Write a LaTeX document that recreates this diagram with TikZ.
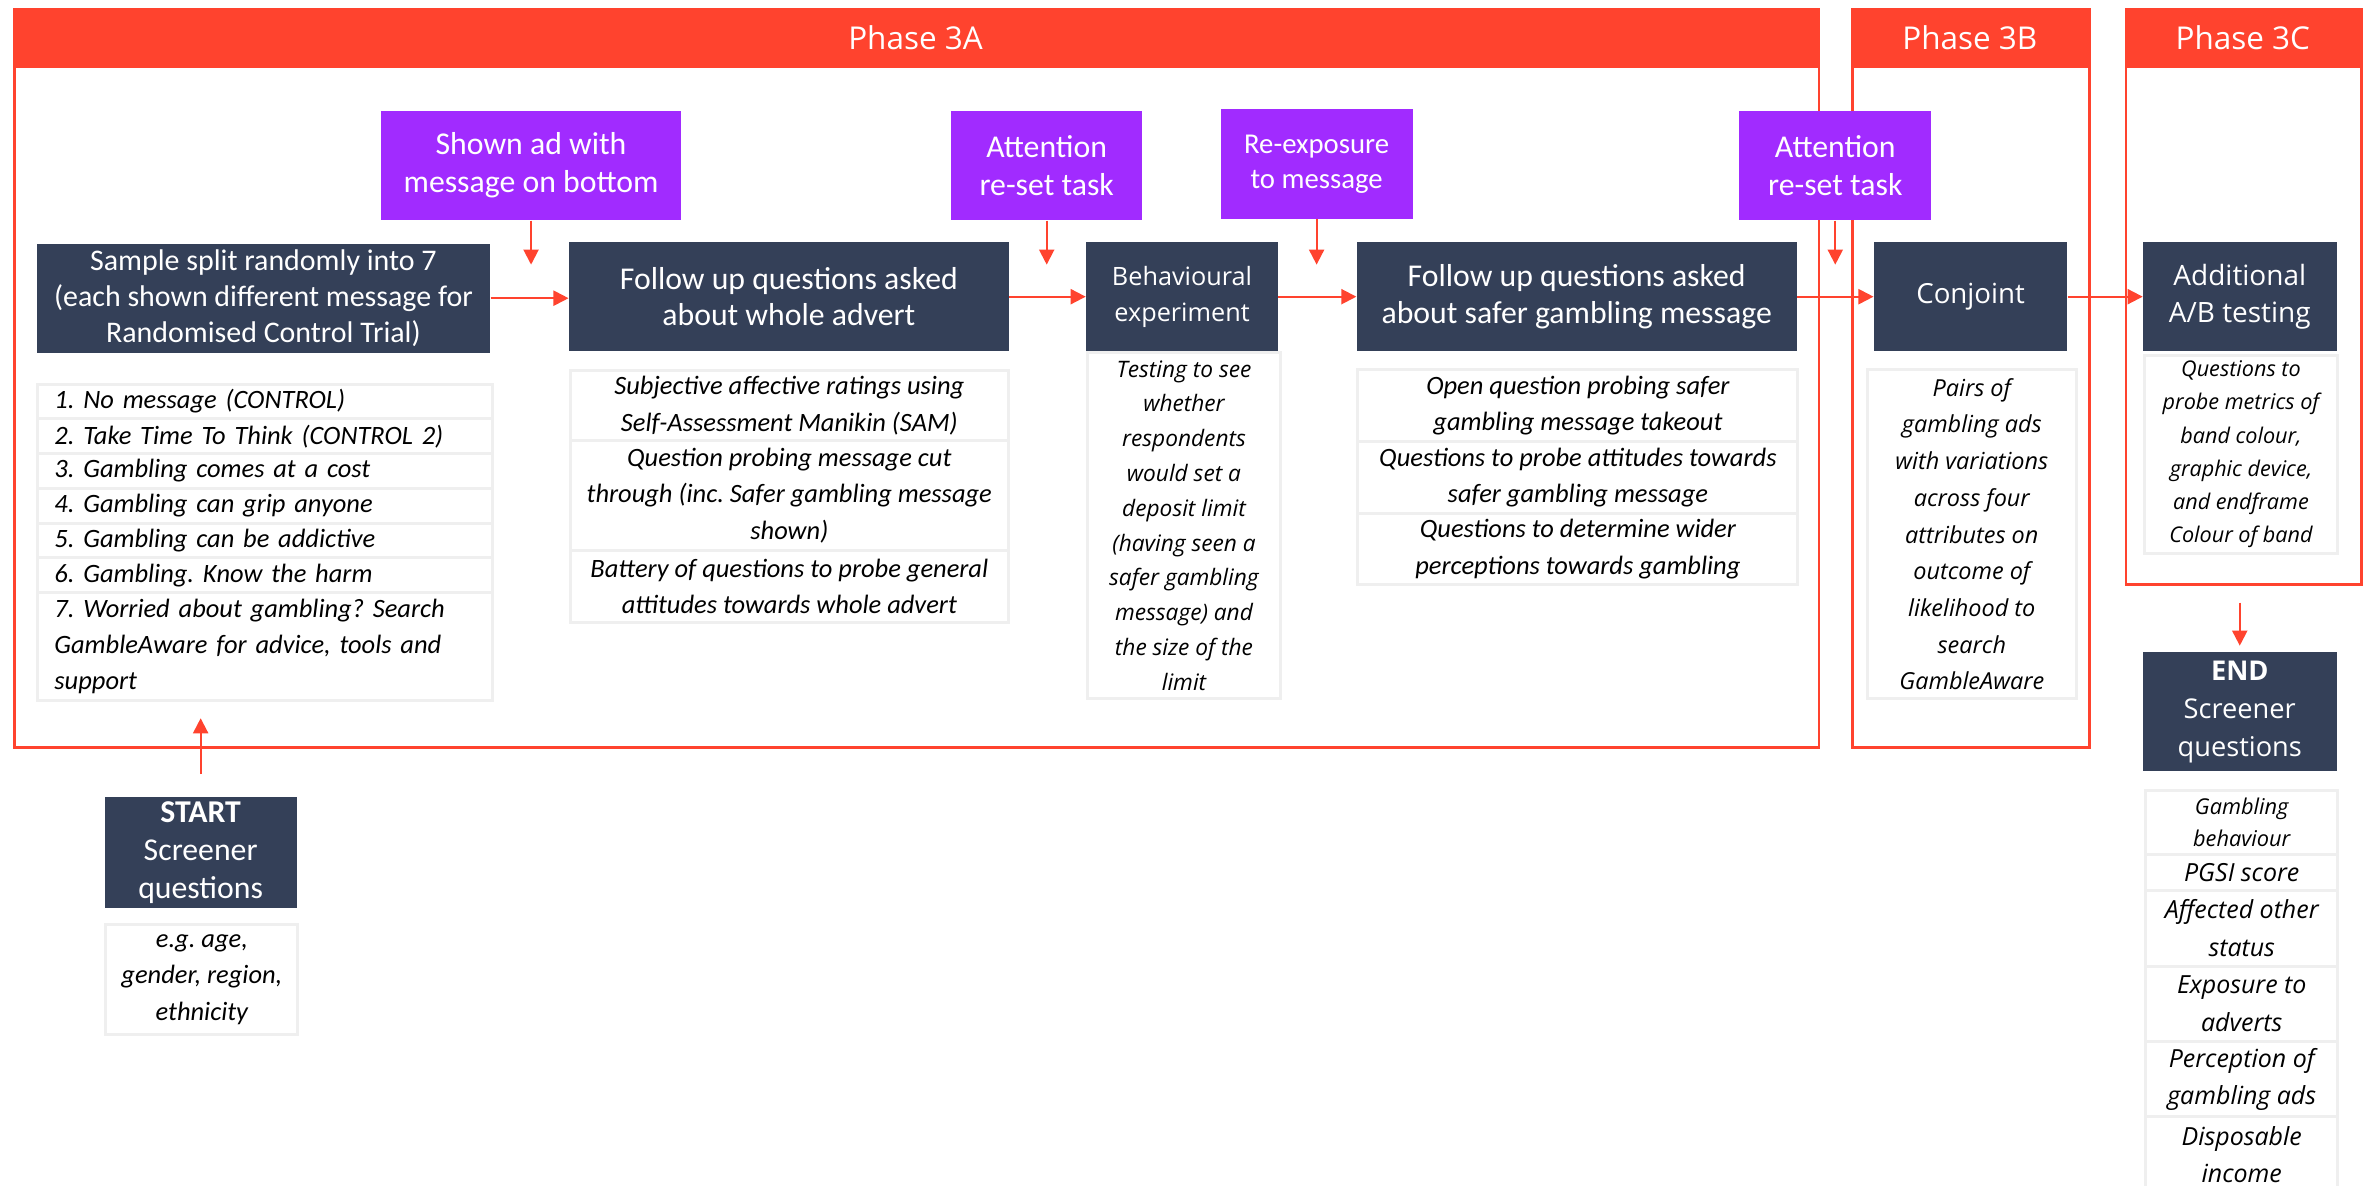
\documentclass[tikz,border=0pt]{standalone}
\usepackage{fontspec}
\setmainfont{Carlito}
\newfontfamily\osans{Open Sans}
\usetikzlibrary{arrows.meta}
\frenchspacing
\definecolor{phred}{HTML}{FF432E}
\definecolor{navy}{HTML}{344058}
\definecolor{purp}{HTML}{A12BFF}
\definecolor{lgray}{HTML}{EFEFEF}
\tikzset{
  every node/.style={inner sep=0pt, anchor=north west, align=center},
  sz/.style 2 args={minimum width=#1, minimum height=#2},
  dark/.style={fill=navy, text=white},
  purple/.style={fill=purp, text=white, font=\fontsize{21}{25}\selectfont},
  light/.style={draw=lgray, line width=2pt, fill=white},
  cal/.style={font=\fontsize{#1}{24}\selectfont},
  calit/.style={font=\frenchspacing\itshape\fontsize{17.5}{24}\selectfont},
  osf/.style 2 args={font=\osans\fontsize{#1}{#2}\selectfont},
  osit/.style 2 args={font=\osans\itshape\fontsize{#1}{#2}\selectfont},
  phasebox/.style={draw=phred, line width=1.8pt},
  phhead/.style={fill=phred, text=white, font=\osans\fontsize{20.8}{24}\selectfont},
  arr/.style={draw=phred, line width=1.3pt, -{Triangle[length=10pt,width=10pt]}},
  listrow/.style={light, calit, align=left, text width=279pt, inner xsep=11pt, minimum width=301pt},
}
\begin{document}
\begin{tikzpicture}[x=1pt,y=-1pt]
\useasboundingbox[fill=white] (0,0) rectangle (1568,784);

% phases
\node[phasebox, sz={1193.5pt}{488.5pt}] (ph3a) at (8.5,5) {};
\node[phasebox, sz={157pt}{488.5pt}] (ph3b) at (1224,5) {};
\node[phasebox, sz={156pt}{380.7pt}] (ph3c) at (1405,5) {};
\node[phhead, sz={1193.5pt}{39.8pt}] (h3a) at (8.5,5) {Phase 3A};
\node[phhead, sz={157pt}{39.8pt}] (h3b) at (1224,5) {Phase 3B};
\node[phhead, sz={156pt}{39.8pt}] (h3c) at (1405,5) {Phase 3C};

% dark boxes
\node[dark, cal=19.8, sz={300pt}{72pt}] (d1) at (24,161) {Sample split randomly into 7\\(each shown different message for\\Randomised Control Trial)};
\node[dark, cal=21, sz={291pt}{72pt}] (d2) at (376,160) {Follow up questions asked\\about whole advert};
\node[dark, osf={16.7}{23.5}, sz={127pt}{72pt}] (d3) at (718,160) {Behavioural\\experiment};
\node[dark, cal=21, sz={291pt}{72pt}] (d4) at (897,160) {Follow up questions asked\\about safer gambling message};
\node[dark, osf={18.3}{24}, sz={128pt}{72pt}] (d5) at (1239,160) {Conjoint};
\node[dark, osf={18.5}{25}, sz={128pt}{72pt}] (d6) at (1417,160) {Additional\\A/B testing};
\node[dark, font=\fontsize{21}{25}\selectfont, sz={127pt}{73pt}] (start) at (69,527) {\textbf{START}\\Screener\\questions};
\node[dark, osf={18}{25}, sz={128pt}{79pt}] (endb) at (1417,431) {\textbf{END}\\Screener\\questions};

% list of messages
\node[listrow, minimum height=23pt] (l11) at (24,253) {1. No message (CONTROL)};
\node[listrow, minimum height=23pt] (l12) at (24,276) {2. Take Time To Think (CONTROL 2)};
\node[listrow, minimum height=23pt] (l13) at (24,299) {3. Gambling comes at a cost};
\node[listrow, minimum height=23pt] (l14) at (24,322) {4. Gambling can grip anyone};
\node[listrow, minimum height=23pt] (l15) at (24,345) {5. Gambling can be addictive};
\node[listrow, minimum height=23pt] (l16) at (24,368) {6. Gambling. Know the harm};
\node[listrow, minimum height=71pt] (l17) at (24,391) {7. Worried about gambling? Search\\GambleAware for advice, tools and\\support};

% whole advert questions
\node[light, calit, sz={290pt}{46.5pt}] (l21) at (376,244) {Subjective affective ratings using\\Self-Assessment Manikin (SAM)};
\node[light, calit, sz={290pt}{72.5pt}] (l22) at (376,290.5) {Question probing message cut\\through (inc. Safer gambling message\\shown)};
\node[light, calit, sz={290pt}{47.5pt}] (l23) at (376,363) {Battery of questions to probe general\\attitudes towards whole advert};

% behavioural
\node[light, osit={15}{23}, sz={128pt}{229pt}] (l3) at (718,232) {Testing to see\\whether\\respondents\\would set a\\deposit limit\\(having seen a\\safer gambling\\message) and\\the size of the\\limit};

% safer gambling questions
\node[light, calit, sz={291pt}{47.5pt}] (l41) at (897,243.5) {Open question probing safer\\gambling message takeout};
\node[light, calit, sz={291pt}{47.4pt}] (l42) at (897,291) {Questions to probe attitudes towards\\safer gambling message};
\node[light, calit, sz={291pt}{47.3pt}] (l43) at (897,338.4) {Questions to determine wider\\perceptions towards gambling};

% conjoint
\node[light, osit={15.5}{24.3}, sz={138pt}{217.5pt}] (l5) at (1234,243.5) {Pairs of\\gambling ads\\with variations\\across four\\attributes on\\outcome of\\likelihood to\\search\\GambleAware};

% A/B testing
\node[light, osit={14.3}{22}, sz={128pt}{131pt}] (l6) at (1417,234) {Questions to\\probe metrics of\\band colour,\\graphic device,\\and endframe\\Colour of band};

% start details
\node[light, calit, sz={127pt}{72.4pt}] (l7) at (69,610.6) {e.g. age,\\gender, region,\\ethnicity};

% end details
\node[light, osit={14.4}{21}, sz={127pt}{42pt}] (l81) at (1418,522) {Gambling\\behaviour};
\node[light, osit={16.5}{25}, sz={127pt}{24pt}] (l82) at (1418,564) {PGSI score};
\node[light, osit={16.5}{25}, sz={127pt}{50pt}] (l83) at (1418,588) {Affected other\\status};
\node[light, osit={16.5}{25}, sz={127pt}{50pt}] (l84) at (1418,638) {Exposure to\\adverts};
\node[light, osit={16.5}{25}, sz={127pt}{49.6pt}] (l85) at (1418,688) {Perception of\\gambling ads};
\node[light, osit={16.5}{24}, sz={127pt}{50pt}] (l86) at (1418,737.6) {Disposable\\income};

% purple boxes
\node[purple, sz={198pt}{72.5pt}] (p1) at (252,73) {Shown ad with\\message on bottom};
\node[purple, sz={126pt}{72.5pt}] (p2) at (629,73) {Attention\\re-set task};
\node[purple, font=\fontsize{19}{23}\selectfont, sz={127pt}{72.5pt}] (p3) at (807,72) {Re-exposure\\to message};
\node[purple, sz={127pt}{72.5pt}] (p4) at (1150,73) {Attention\\re-set task};

% free arrow ends
\coordinate (tipy) at (0,175);
\coordinate (starty) at (0,475);

% arrows
\draw[arr] (d1.east) -- (d1.east -| d2.west);
\draw[arr] (d2.east) -- (d3.west);
\draw[arr] (d3.east) -- (d4.west);
\draw[arr] (d4.east) -- (d5.west);
\draw[arr] (d5.east) -- (d6.west);
\draw[arr] (p1.south) -- (p1.south |- tipy);
\draw[arr] (p2.south) -- (p2.south |- tipy);
\draw[arr] (p3.south) -- (p3.south |- tipy);
\draw[arr] (p4.south) -- (p4.south |- tipy);
\draw[arr, shorten <=15pt] (start.north) -- (start.north |- starty);
\draw[arr, shorten <=11pt, shorten >=4pt] (ph3c.south -| endb.north) -- (endb.north);
\end{tikzpicture}
\end{document}
